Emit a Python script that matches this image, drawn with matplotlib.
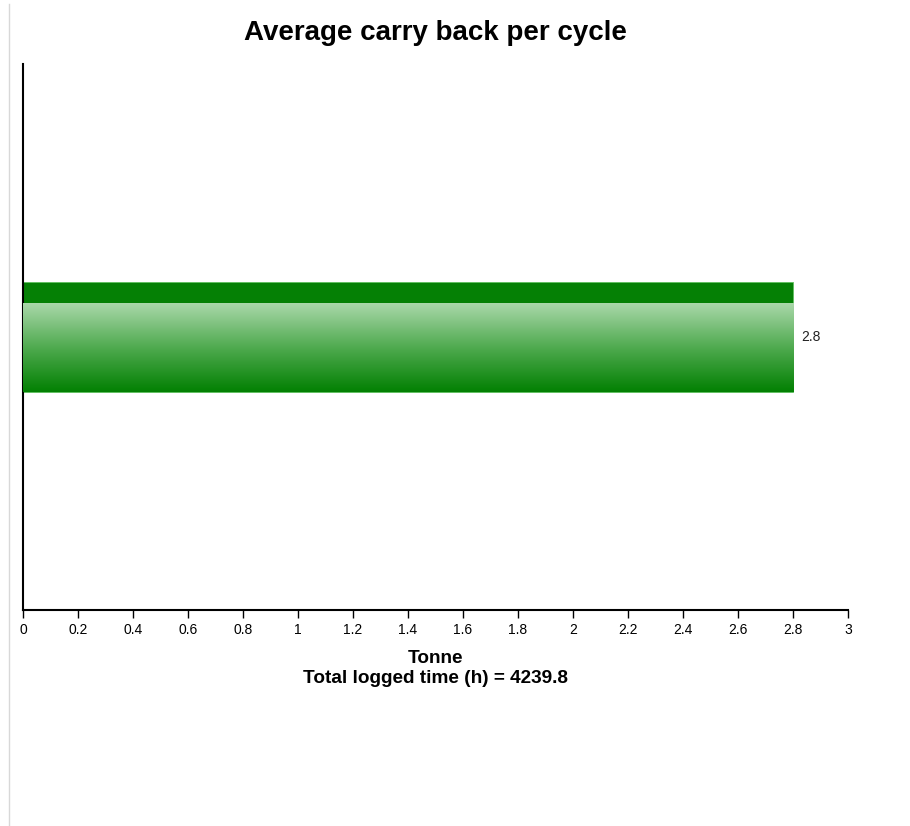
import numpy as np
import matplotlib.pyplot as plt
from matplotlib.lines import Line2D
from matplotlib.colors import LinearSegmentedColormap

plt.rcParams['font.family'] = ['Liberation Sans', 'DejaVu Sans']

# data
categories = ['']
values = [2.8]
x_ticks = [0, 0.2, 0.4, 0.6, 0.8, 1, 1.2, 1.4, 1.6, 1.8, 2, 2.2, 2.4, 2.6, 2.8, 3]
x_tick_labels = ['0', '0.2', '0.4', '0.6', '0.8', '1', '1.2', '1.4', '1.6', '1.8',
                 '2', '2.2', '2.4', '2.6', '2.8', '3']
title = 'Average carry back per cycle'
x_label = 'Tonne'
sub_label = 'Total logged time (h) = 4239.8'

fig = plt.figure(figsize=(9.1, 8.26), dpi=100)
ax = fig.add_axes([0.0253, 0.2615, 0.9066, 0.661])
ax_h_px = 0.661 * 826

# bar with gradient fill
bars = ax.barh(np.arange(len(values)), values, height=0.2, color='#058005',
               edgecolor='#5fbf5f', linewidth=0.6, zorder=2)
grad_cmap = LinearSegmentedColormap.from_list('g', ['#028002', '#4faa4f', '#aad8aa'])
for bar in bars:
    x0, y0 = bar.get_x(), bar.get_y()
    w, h = bar.get_width(), bar.get_height()
    # gradient covers the lower part, top band stays solid dark green
    grad = np.linspace(0, 1, 256).reshape(-1, 1)
    im = ax.imshow(grad, cmap=grad_cmap, aspect='auto', origin='lower',
                   extent=[x0, x0 + w, y0, y0 + h * 0.81], zorder=3,
                   interpolation='bilinear')
    im.set_clip_path(bar)
    ax.text(x0 + w + 0.03, y0 + h / 2, f'{values[0]:g}', va='center', ha='left',
            fontsize=10, color='#222222')

ax.set_xlim(0, 3)
ax.set_ylim(-0.5, 0.5)
ax.set_xticks(x_ticks)
ax.set_xticklabels(x_tick_labels, fontsize=10)
ax.set_yticks([])
ax.tick_params(axis='x', length=6, width=1, direction='out', pad=3)
for side in ['top', 'right']:
    ax.spines[side].set_visible(False)
for side in ['left', 'bottom']:
    ax.spines[side].set_linewidth(1.5)

# axis label and total-time line below the axis
ax.text(0.5, -48 / ax_h_px, x_label, transform=ax.transAxes, ha='center', va='center',
        fontsize=13.7, fontweight='bold')
ax.text(0.5, -68 / ax_h_px, sub_label, transform=ax.transAxes, ha='center', va='center',
        fontsize=13.7, fontweight='bold')
ax.text(0.5, 1 + 31 / ax_h_px, title, transform=ax.transAxes, ha='center', va='center',
        fontsize=20, fontweight='bold')

# thin gray border line at the left
fig.add_artist(Line2D([8.5 / 910, 8.5 / 910], [0, 1 - 4 / 826], color='#d8d8d8',
                      linewidth=1, transform=fig.transFigure))

fig.savefig('out.png', dpi=100)
